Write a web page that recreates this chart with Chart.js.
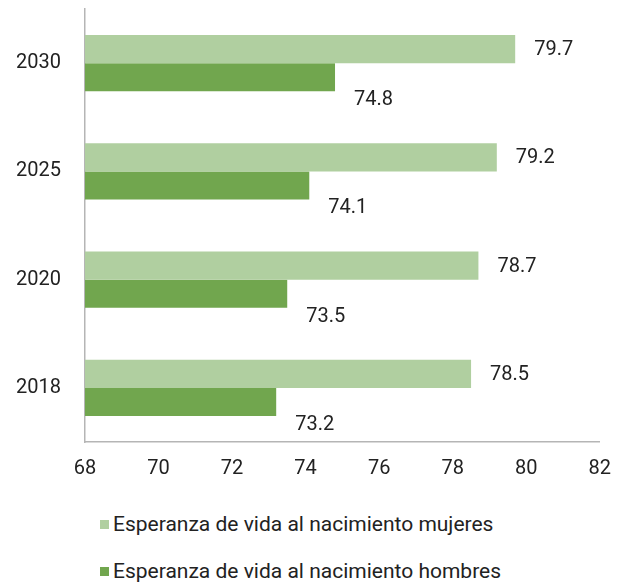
<!DOCTYPE html>
<html>
<head>
<meta charset="utf-8">
<script src="https://cdn.jsdelivr.net/npm/chart.js@4"></script>
<style>
  body { margin: 0; background: #fff; font-family: 'Roboto', sans-serif; }
  #wrap { position: relative; width: 618px; height: 488px; }
  .legend { position: absolute; left: 100px; font-size: 21px; color: #222; display: flex; align-items: center; }
  .legend span.box { display: inline-block; width: 9px; height: 9px; margin-right: 4px; }
</style>
</head>
<body>
<div id="wrap"><canvas id="bars"></canvas></div>
<div class="legend" style="top:512px"><span class="box" style="background:#b0cfa0"></span>Esperanza de vida al nacimiento mujeres</div>
<div class="legend" style="top:559px"><span class="box" style="background:#71a64e"></span>Esperanza de vida al nacimiento hombres</div>
<script>
const years = ["2030", "2025", "2020", "2018"];
const mujeres = [79.7, 79.2, 78.7, 78.5];
const hombres = [74.8, 74.1, 73.5, 73.2];
const xTicks = [68, 70, 72, 74, 76, 78, 80, 82];

const fontName = "'Roboto', sans-serif";

// value labels to the right of each bar, men's label pushed below its bar
const barLabels = {
    id: "barLabels",
    afterDatasetsDraw(chart) {
        const ctx = chart.ctx;
        ctx.save();
        ctx.font = "20px " + fontName;
        ctx.fillStyle = "#222";
        ctx.textAlign = "left";
        ctx.textBaseline = "middle";
        chart.data.datasets.forEach((ds, i) => {
            chart.getDatasetMeta(i).data.forEach((bar, j) => {
                const dy = i === 1 ? 23 : 1;
                ctx.fillText(ds.data[j].toFixed(1), bar.x + 19, bar.y + dy);
            });
        });
        ctx.restore();
    }
};

new Chart(document.getElementById("bars").getContext("2d"), {
    type: "bar",
    data: {
        labels: years,
        datasets: [
            { label: "Esperanza de vida al nacimiento mujeres", data: mujeres, backgroundColor: "#b0cfa0" },
            { label: "Esperanza de vida al nacimiento hombres", data: hombres, backgroundColor: "#71a64e" }
        ]
    },
    options: {
        indexAxis: "y",
        responsive: true,
        maintainAspectRatio: false,
        animation: false,
        layout: { padding: { top: 9, right: 0, left: 4, bottom: 0 } },
        plugins: { legend: { display: false }, tooltip: { enabled: false } },
        datasets: { bar: { categoryPercentage: 0.52, barPercentage: 1 } },
        scales: {
            x: {
                min: 68,
                max: 82,
                afterBuildTicks: (axis) => { axis.ticks = xTicks.map(v => ({ value: v })); },
                grid: { display: false },
                border: { display: true, color: "#b5b5b5", width: 1.5 },
                ticks: { color: "#222", font: { family: fontName, size: 20 }, padding: 7 }
            },
            y: {
                afterFit: (axis) => {
                    axis.width = 81;
                    axis.paddingTop = 0;
                    axis.paddingBottom = 0;
                },
                grid: { display: false },
                border: { display: true, color: "#b5b5b5", width: 1.5 },
                ticks: { color: "#222", font: { family: fontName, size: 20 }, padding: 16 }
            }
        }
    },
    plugins: [barLabels]
});
</script>
</body>
</html>
